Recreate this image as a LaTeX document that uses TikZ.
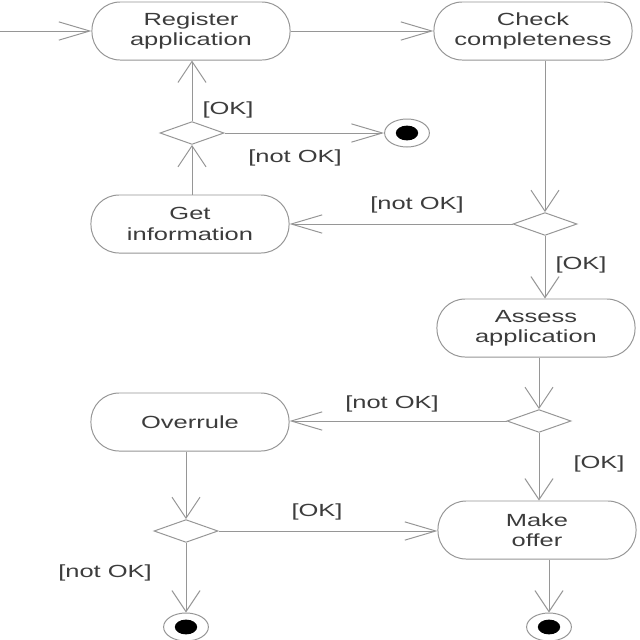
\documentclass[tikz,border=0pt]{standalone}
\usepackage{fontspec}
\setmainfont[FakeStretch=1.45]{Liberation Sans}
\usetikzlibrary{arrows.meta,shapes.geometric}
\definecolor{lncol}{RGB}{150,150,150}
\definecolor{txcol}{RGB}{60,60,60}
\tikzset{
  activity/.style={draw=lncol, line width=0.7pt, rounded corners=20pt, minimum width=4.95cm, minimum height=1.45cm, align=center, text=txcol, font=\fontsize{12.5}{14.5}\selectfont, inner sep=0pt},
  decision/.style={draw=lncol, line width=0.7pt, diamond, minimum width=1.6cm, minimum height=0.57cm, inner sep=0pt},
  finalout/.style={draw=lncol, line width=0.7pt, ellipse, minimum width=1.12cm, minimum height=0.7cm, inner sep=0pt},
  finalin/.style={fill=black, ellipse, minimum width=0.56cm, minimum height=0.37cm, inner sep=0pt},
  guard/.style={text=txcol, font=\fontsize{12.5}{14.5}\selectfont, inner sep=1pt},
  harr/.style={draw=lncol, line width=0.7pt, -{Straight Barb[length=22pt,width=13pt,line width=0.7pt]}},
  varr/.style={draw=lncol, line width=0.7pt, -{Straight Barb[length=15pt,width=20pt,line width=0.7pt]}},
}
\begin{document}
\begin{tikzpicture}[x=0.025cm, y=-0.025cm]
\useasboundingbox[fill=white] (0,0) rectangle (640,640);
% activities
\node[activity] (reg) at (191,31) {Register\\application};
\node[activity] (chk) at (533,31) {Check\\completeness};
\node[activity] (get) at (190,224) {Get\\information};
\node[activity] (ass) at (536,328) {Assess\\application};
\node[activity] (over) at (190,422) {Overrule};
\node[activity] (offer) at (537,530) {Make\\offer};
% decisions
\node[decision] (d1) at (192,133) {};
\node[decision] (d2) at (545,224) {};
\node[decision] (d3) at (539,421) {};
\node[decision] (d4) at (186,531) {};
% final states
\node[finalout] (f1) at (407,133) {};
\node[finalin] (f1i) at (f1) {};
\node[finalout] (f3) at (186,627) {};
\node[finalin] (f3i) at (f3) {};
\node[finalout] (f4) at (549,627) {};
\node[finalin] (f4i) at (f4) {};
% start point
\coordinate (start) at (0,31);
% connectors
\draw[harr] (start) -- (reg.west);
\draw[harr] (reg.east) -- (chk.west);
\draw[varr] (d2 |- chk.south) -- (d2.north);
\draw[harr] (d2.west) -- (d2.west -| get.east);
\draw[varr] (d2.south) -- (d2 |- ass.north);
\draw[varr] (get.north -| d1) -- (d1.south);
\draw[varr] (d1.north) -- (d1 |- reg.south);
\draw[harr] (d1.east) -- (f1.west);
\draw[varr] (d3 |- ass.south) -- (d3.north);
\draw[harr] (d3.west) -- (d3.west -| over.east);
\draw[varr] (d3.south) -- (d3 |- offer.north);
\draw[varr] (d4 |- over.south) -- (d4.north);
\draw[harr] (d4.east) -- (d4.east -| offer.west);
\draw[varr] (d4.south) -- (f3.north);
\draw[varr] (f4 |- offer.south) -- (f4.north);
% guards
\node[guard] (g1) at (228,110) {[OK]};
\node[guard] (g2) at (295,158) {[not OK]};
\node[guard] (g3) at (417,205) {[not OK]};
\node[guard] (g4) at (581,265) {[OK]};
\node[guard] (g5) at (392,404) {[not OK]};
\node[guard] (g6) at (599,464) {[OK]};
\node[guard] (g7) at (317,512) {[OK]};
\node[guard] (g8) at (105,573) {[not OK]};
\end{tikzpicture}
\end{document}
